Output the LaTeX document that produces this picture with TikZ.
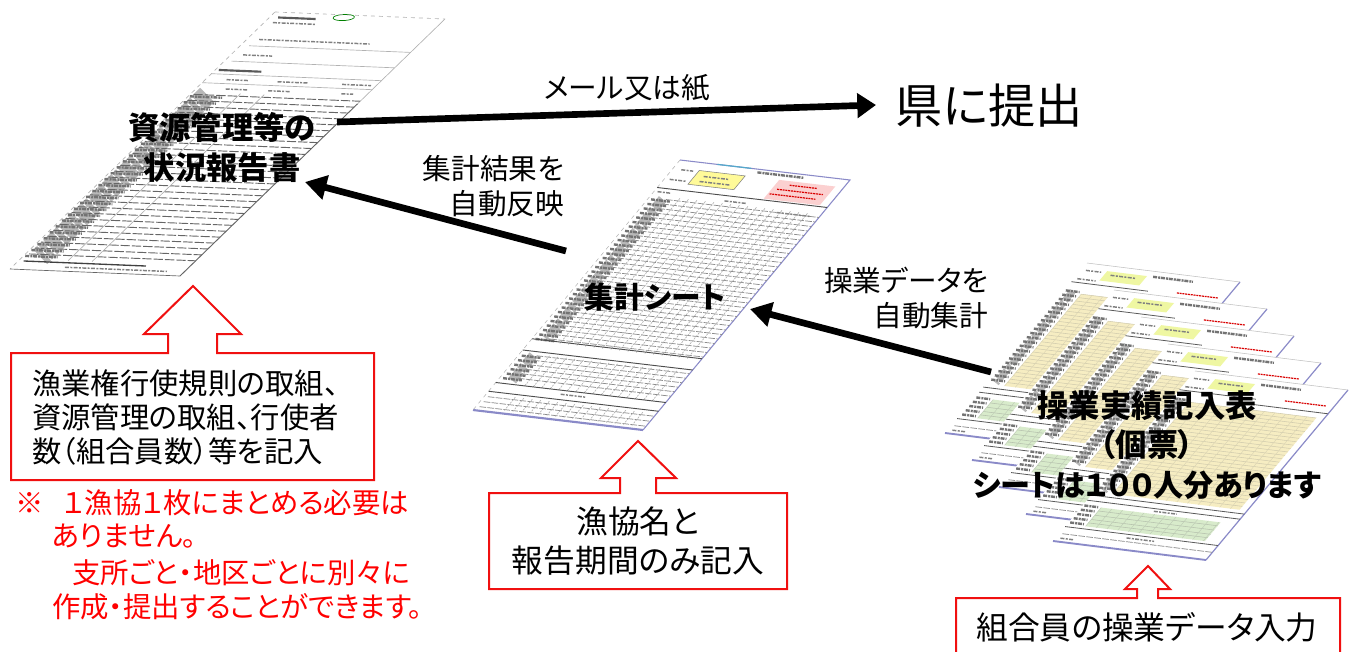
\documentclass[tikz,border=0pt]{standalone}
\usepackage{fontspec}
\setmainfont{Noto Sans CJK JP}[RawFeature=+palt]
\usetikzlibrary{arrows.meta}
\definecolor{redline}{HTML}{F01010}
\definecolor{redtext}{HTML}{FF0000}
\definecolor{sheetblue}{HTML}{8A8AC8}
\definecolor{sheetyellow}{HTML}{F6EDC2}
\definecolor{sheetgreen}{HTML}{D8EBCB}
\definecolor{sheetpink}{HTML}{FBD0D0}
\tikzset{
  flow/.style={line width=5pt,-{Triangle[length=16pt,width=18pt]},black},
  flowlong/.style={line width=5pt,-{Triangle[length=14pt,width=18pt]},black},
  callout/.style={draw=redline,line width=1.5pt,fill=white,line join=miter},
  calloutopen/.style={draw=redline,line width=1.5pt,line join=miter},
  plain/.style={inner sep=0pt,outer sep=0pt,text=black},
  redplain/.style={inner sep=0pt,outer sep=0pt,text=redtext,align=left,font=\fontsize{21.3}{21.3}\selectfont},
  lbl/.style={plain,font=\fontsize{21.5}{26.5}\selectfont,align=right},
  boxtext/.style={plain,font=\fontsize{22}{25.5}\selectfont},
  bigbox/.style={plain,font=\fontsize{23.8}{29}\selectfont},
  title/.style={plain,font=\fontsize{23.5}{30}\selectfont\bfseries,align=center},
  rowline/.style={black!60,line width=.7pt,dash pattern=on 7pt off 1.5pt},
  gridrow/.style={black!45,line width=.55pt,dash pattern=on 5pt off 1pt},
  faint/.style={gray!60,line width=.5pt},
  scrib/.style={black!55,line width=1.8pt,dash pattern=on 3pt off .8pt on 1.5pt off .6pt},
  scribthin/.style={black!50,line width=1.1pt,dash pattern=on 3pt off 1pt on 1.5pt off 1pt},
  darkband/.style={black!65,line width=1.6pt},
  columnshade/.style={black!28,dash pattern=on 9pt off 1.5pt on 4pt off 1pt},
}
\newcommand{\sheetat}[7]{%
  \begin{scope}[shift={(#1,#2)},x={({#3*0.75pt},{-#4*0.75pt})},y={({#5*0.75pt},{-#6*0.75pt})}]#7\end{scope}}
\newcommand{\reportbody}{%
  \draw[faint,dashed] (0,0)--(0,1);
  \draw[gray!80!black,line width=.7pt] (1,.33)--(1,1);
  \draw[faint] (1,.0)--(1,.33);
  \draw[darkband] (.05,.02)--(.27,.02);
  \draw[scribthin] (.05,.04)--(.3,.04);
  \draw[green!50!black,line width=.5pt] (.42,.01) ellipse (.06 and .012);
  \draw[faint,dashed] (0,.0)--(1,.0);
  \draw[scribthin] (.07,.105)--(.72,.105);
  \draw[faint] (.05,.13)--(1,.13);
  \draw[scribthin] (.07,.165)--(.24,.165);
  \draw[faint] (.04,.19)--(1,.19);
  \draw[darkband] (.02,.225)--(.27,.225);
  \draw[faint] (0,.24)--(1,.24);
  \draw[scribthin] (.12,.26)--(.25,.26) (.42,.26)--(.6,.26) (.8,.26)--(.97,.26);
  \draw[faint] (0,.275)--(1,.275);
  \draw[scribthin] (.17,.295)--(.3,.295) (.42,.295)--(.55,.295) (.85,.295)--(.92,.295);
  \draw[columnshade,line width=15pt] (.1,.32)--(.1,.95);
  \foreach \r in {.32,.343,...,.96}{
    \draw[rowline] (.02,\r)--(1,\r);
    \draw[scrib] (.01,\r+.008)--(.2,\r+.008);
  }
  \draw[faint] (.28,.31)--(.28,.96) (.42,.31)--(.42,.96);
  \draw[black!75,line width=1pt] (.03,.968)--(.75,.968);
  \draw[scribthin] (.3,.985)--(.9,.985);
  \draw[gray!80!black,line width=.5pt] (0,1)--(1,1);
}
\newcommand{\tallybody}{%
  \draw[sheetblue,line width=.8pt] (0,0)--(1,0)--(1,1);
  \draw[sheetblue,line width=1.6pt] (0,1)--(1,1);
  \draw[gray!60,line width=.4pt,dashed] (0,0)--(0,1);
  \draw[cyan!60!gray,line width=.9pt] (.22,.0)--(.42,.0);
  \fill[yellow!40!white,draw=gray,line width=.4pt] (.15,.03)--(.42,.03)--(.42,.085)--(.15,.085)--cycle;
  \draw[scrib] (.47,.012)--(.74,.012);
  \draw[scribthin] (.05,.035)--(.12,.035) (.03,.075)--(.13,.075) (.2,.05)--(.35,.05) (.2,.07)--(.38,.07);
  \fill[sheetpink] (.62,.03)--(.95,.03)--(.95,.105)--(.62,.105)--cycle;
  \draw[red!85!black,line width=.9pt,dash pattern=on 1.5pt off .6pt] (.7,.045)--(.86,.045) (.65,.065)--(.92,.065) (.63,.085)--(.9,.085);
  \draw[black!70,line width=.7pt] (0,.11)--(1,.11);
  \draw[scribthin] (.02,.125)--(.1,.125) (.42,.13)--(.55,.13) (.75,.15)--(.95,.15);
  \draw[columnshade,line width=7pt] (.08,.15)--(.08,.71);
  \draw[columnshade,line width=7pt] (.08,.775)--(.08,.88);
  \foreach \r in {.15,.168,...,.71}{
    \draw[gridrow] (.1,\r)--(1,\r);
    \draw[scrib] (.02,\r+.006)--(.13,\r+.006);
  }
  \foreach \c in {.17,.22,...,.97}{\draw[faint,dash pattern=on 1.5pt off .8pt] (\c,.14)--(\c,.72);}
  \draw[black!70,line width=.7pt] (0,.715)--(1,.715);
  \draw[black!70,line width=.7pt] (0,.76)--(1,.76);
  \foreach \r in {.775,.793,...,.875}{
    \draw[gridrow] (.1,\r)--(1,\r);
    \draw[scrib] (.02,\r+.006)--(.13,\r+.006);
  }
  \foreach \c in {.17,.22,...,.97}{\draw[faint,dash pattern=on 1.5pt off .8pt] (\c,.77)--(\c,.89);}
  \draw[black!70,line width=.7pt] (0,.89)--(1,.89);
  \draw[black!70,line width=.7pt] (0,.925)--(1,.925);
  \foreach \r in {.945,.965,.985}{\draw[gridrow] (.02,\r)--(1,\r);}
  \foreach \c in {.17,.22,...,.97}{\draw[faint,dash pattern=on 1.5pt off .8pt] (\c,.935)--(\c,.99);}
  \draw[scribthin] (.4,.905)--(.55,.905);
}
\newcommand{\recordbody}{%
  \fill[white] (0,0)--(1,0)--(1,1)--(0,1)--cycle;
  \draw[sheetblue,line width=.9pt] (1,0)--(1,1);
  \draw[gray!50,line width=.4pt] (0,0)--(1,0);
  \draw[sheetblue,line width=1.4pt] (0,1)--(1,1);
  \fill[sheetgreen!60!yellow!70] (.16,.03)--(.42,.03)--(.42,.085)--(.16,.085)--cycle;
  \draw[scribthin] (.03,.04)--(.13,.04) (.02,.09)--(.14,.09) (.2,.05)--(.36,.05);
  \draw[scrib] (.46,.03)--(.72,.03);
  \draw[red!85!black,line width=.9pt,dash pattern=on 1.5pt off .6pt] (.68,.1)--(.95,.1);
  \draw[black!65,line width=.6pt] (0,.11)--(.5,.11) (.5,.14)--(1,.14);
  \fill[sheetyellow] (.12,.17)--(.95,.17)--(.95,.71)--(.12,.71)--cycle;
  \foreach \r in {.17,.19,...,.71}{\draw[gray!32!sheetyellow,line width=.4pt] (.12,\r)--(.95,\r);}
  \foreach \c in {.12,.19,...,.95}{\draw[gray!22!sheetyellow,line width=.35pt] (\c,.17)--(\c,.71);}
  \draw[columnshade,line width=5pt] (.055,.16)--(.055,.7);
  \foreach \r in {.16,.185,...,.7}{\draw[scrib] (.01,\r)--(.1,\r);}
  \draw[black!65,line width=.6pt] (0,.73)--(1,.73);
  \draw[black!65,line width=.6pt] (0,.76)--(1,.76);
  \fill[sheetgreen] (.12,.79)--(.9,.79)--(.9,.9)--(.12,.9)--cycle;
  \foreach \r in {.81,.835,.86,.88}{\draw[gray!40!sheetgreen,line width=.4pt] (.12,\r)--(.9,\r);}
  \foreach \c in {.12,.19,...,.9}{\draw[gray!28!sheetgreen,line width=.35pt] (\c,.79)--(\c,.9);}
  \foreach \r in {.79,.815,.84,.865,.89}{\draw[scrib] (.01,\r)--(.1,\r);}
  \draw[scribthin] (.45,.775)--(.6,.775);
  \draw[black!65,line width=.6pt] (0,.915)--(1,.915);
  \draw[gridrow] (.02,.955)--(1,.955);
  \draw[scribthin] (.42,.935)--(.6,.935) (.03,.98)--(.12,.98);
}
\begin{document}
\begin{tikzpicture}[x=0.75pt,y=-0.75pt]
\useasboundingbox (0,0) rectangle (1351,652);
% perspective sheets
\sheetat{275}{12}{170}{7}{-265}{257}{\reportbody}
\sheetat{680}{160}{170}{20}{-207}{250}{\tallybody}
\foreach \k in {0,1,2,3,4}{%
  \sheetat{1087+27*\k}{263+27*\k}{153}{19}{-142}{170}{\recordbody}
}
% callouts
\draw[callout] (11,480)--(11,353)--(168,353)--(168,334)--(144,334)--(193,286)--(241,334)--(217,334)--(217,353)--(374,353)--(374,480)--cycle;
\draw[callout] (489,589)--(489,493)--(620,493)--(620,478)--(601,478)--(638,441)--(676,478)--(656,478)--(656,493)--(787,493)--(787,589)--cycle;
\draw[calloutopen] (956,653)--(956,598)--(1137,598)--(1137,589)--(1125,589)--(1148,566)--(1170,589)--(1158,589)--(1158,598)--(1340,598)--(1340,653);
% anchors of the flows
\coordinate (reportOut) at (337,122);
\coordinate (prefIn) at (876,105);
\coordinate (tallyOut) at (566,251);
\coordinate (reportIn) at (305,182);
\coordinate (recordOut) at (991,372);
\coordinate (tallyIn) at (750,309);
\draw[flowlong] (reportOut)--(prefIn);
\draw[flow] (tallyOut)--(reportIn);
\draw[flow] (recordOut)--(tallyIn);
% labels
\node[title] (reportTitle) at (222,147) {資源管理等の\\状況報告書};
\node[title,font=\fontsize{22.3}{30}\selectfont\bfseries] (tallyTitle) at (655,297) {集計シート};
\node[title,font=\fontsize{23.5}{29.5}\selectfont\bfseries] (recordTitle) at (1147,445) {操業実績記入表\\（個票）\\\fontsize{22.6}{29.5}\selectfont シートは１００人分あります};
\node[plain,font=\fontsize{35.4}{35.4}\selectfont] (pref) at (989,106) {県に提出};
\node[lbl] (mail) at (627,88) {メール又は紙};
\node[lbl,anchor=east] (autoReflect) at (564,186) {集計結果を\\自動反映};
\node[lbl,anchor=east] (autoTally) at (988,298) {操業データを\\自動集計};
\node[boxtext,anchor=west,align=left] (boxOne) at (32,418) {漁業権行使規則の取組、\\資源管理の取組、行使者\\数（組合員数）等を記入};
\node[bigbox,align=center] (boxTwo) at (638,541) {漁協名と\\報告期間のみ記入};
\node[bigbox] (boxThree) at (1147,627) {組合員の操業データ入力};
\node[redplain,anchor=west] (noteA) at (15,503) {※\hspace{.7em}１漁協１枚にまとめる必要は};
\node[redplain,anchor=west] (noteB) at (52,536) {ありません。};
\node[redplain,anchor=west] (noteC) at (72,573) {支所ごと・地区ごとに別々に};
\node[redplain,anchor=west] (noteD) at (52,607) {作成・提出することができます。};
\end{tikzpicture}
\end{document}
